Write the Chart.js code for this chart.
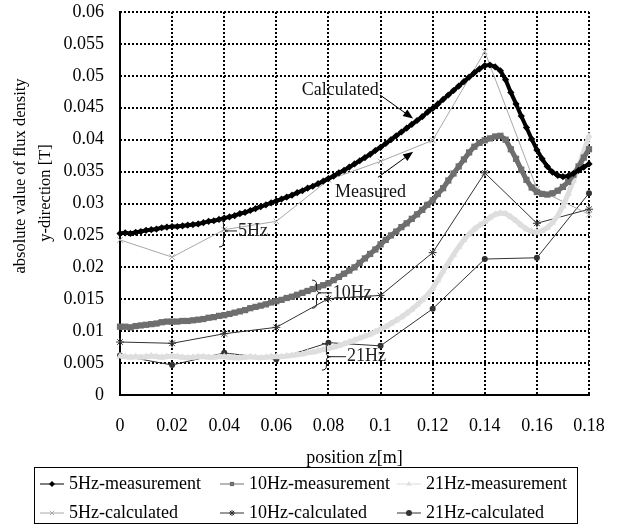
<!DOCTYPE html>
<html>
<head>
<meta charset="utf-8">
<script src="https://cdn.jsdelivr.net/npm/chart.js@4/dist/chart.umd.min.js"></script>
<style>
  html, body { margin: 0; padding: 0; background: #fff; }
  #wrap { width: 619px; height: 525px; }
</style>
</head>
<body>
<div id="wrap"><canvas id="fluxChart" width="619" height="525"></canvas></div>
<script>
// tick values / labels
const xTicks = [0, 0.02, 0.04, 0.06, 0.08, 0.1, 0.12, 0.14, 0.16, 0.18];
const xTickLabels = ["0", "0.02", "0.04", "0.06", "0.08", "0.1", "0.12", "0.14", "0.16", "0.18"];
const yTicks = [0, 0.005, 0.01, 0.015, 0.02, 0.025, 0.03, 0.035, 0.04, 0.045, 0.05, 0.055, 0.06];
const yTickLabels = ["0", "0.005", "0.01", "0.015", "0.02", "0.025", "0.03", "0.035", "0.04", "0.045", "0.05", "0.055", "0.06"];
const yTitleLines = ["absolute value of flux density", "y-direction [T]"];

// calculated values, one per x tick
const calcZ = [0, 0.02, 0.04, 0.06, 0.08, 0.1, 0.12, 0.14, 0.16, 0.18];
const calc5Hz = [0.0243, 0.0216, 0.0259, 0.0272, 0.0337, 0.0366, 0.0399, 0.0538, 0.0323, 0.0283];
const calc10Hz = [0.0083, 0.0081, 0.0096, 0.0106, 0.0151, 0.0156, 0.0223, 0.0348, 0.0269, 0.0291];
const calc21Hz = [0.0062, 0.0047, 0.0066, 0.0056, 0.0082, 0.0077, 0.0135, 0.0213, 0.0215, 0.0316];

// measured values, every 2 mm from 0 to 0.18 m
const measStep = 0.002;
const meas5Hz = [
  0.0253, 0.0254, 0.0253, 0.0255, 0.0256, 0.0258, 0.0259, 0.0260, 0.0262, 0.0263,
  0.0264, 0.0264, 0.0265, 0.0266, 0.0267, 0.0268, 0.0270, 0.0272, 0.0273, 0.0275,
  0.0277, 0.0279, 0.0281, 0.0284, 0.0286, 0.0289, 0.0292, 0.0295, 0.0298, 0.0301,
  0.0304, 0.0307, 0.0310, 0.0313, 0.0317, 0.0320, 0.0324, 0.0327, 0.0331, 0.0335,
  0.0339, 0.0343, 0.0348, 0.0352, 0.0357, 0.0362, 0.0367, 0.0372, 0.0377, 0.0383,
  0.0388, 0.0394, 0.0400, 0.0406, 0.0412, 0.0418, 0.0424, 0.0430, 0.0436, 0.0443,
  0.0449, 0.0456, 0.0463, 0.0470, 0.0477, 0.0484, 0.0491, 0.0498, 0.0505, 0.0511,
  0.0516, 0.0517, 0.0514, 0.0508, 0.0494, 0.0474, 0.0456, 0.0437, 0.0419, 0.0401,
  0.0384, 0.0370, 0.0358, 0.0349, 0.0344, 0.0342, 0.0343, 0.0347, 0.0352, 0.0357,
  0.0362
];
const meas10Hz = [
  0.0107, 0.0107, 0.0106, 0.0108, 0.0109, 0.0110, 0.0111, 0.0112, 0.0114, 0.0115,
  0.0115, 0.0115, 0.0116, 0.0116, 0.0117, 0.0118, 0.0119, 0.0121, 0.0122, 0.0124,
  0.0125, 0.0127, 0.0129, 0.0131, 0.0133, 0.0136, 0.0138, 0.0140, 0.0142, 0.0145,
  0.0147, 0.0149, 0.0152, 0.0154, 0.0157, 0.0160, 0.0163, 0.0166, 0.0169, 0.0172,
  0.0175, 0.0180, 0.0185, 0.0190, 0.0195, 0.0200, 0.0207, 0.0214, 0.0221, 0.0228,
  0.0236, 0.0243, 0.0250, 0.0256, 0.0263, 0.0269, 0.0276, 0.0283, 0.0290, 0.0298,
  0.0305, 0.0315, 0.0324, 0.0336, 0.0347, 0.0358, 0.0369, 0.0380, 0.0389, 0.0395,
  0.0399, 0.0402, 0.0405, 0.0406, 0.0400, 0.0385, 0.0370, 0.0353, 0.0337, 0.0325,
  0.0318, 0.0315, 0.0314, 0.0316, 0.0320, 0.0326, 0.0334, 0.0345, 0.0358, 0.0372,
  0.0385
];
const meas21Hz = [
  0.0061, 0.0060, 0.0059, 0.0060, 0.0059, 0.0060, 0.0061, 0.0060, 0.0059, 0.0060,
  0.0061, 0.0060, 0.0059, 0.0058, 0.0059, 0.0060, 0.0060, 0.0059, 0.0059, 0.0060,
  0.0060, 0.0059, 0.0058, 0.0058, 0.0059, 0.0060, 0.0059, 0.0058, 0.0059, 0.0060,
  0.0060, 0.0060, 0.0061, 0.0062, 0.0063, 0.0064, 0.0066, 0.0067, 0.0069, 0.0071,
  0.0073, 0.0075, 0.0077, 0.0080, 0.0083, 0.0086, 0.0089, 0.0092, 0.0095, 0.0099,
  0.0103, 0.0107, 0.0112, 0.0117, 0.0122, 0.0128, 0.0134, 0.0141, 0.0149, 0.0157,
  0.0167, 0.0180, 0.0194, 0.0207, 0.0220, 0.0232, 0.0243, 0.0252, 0.0260, 0.0266,
  0.0271, 0.0278, 0.0283, 0.0285, 0.0284, 0.0279, 0.0273, 0.0266, 0.0260, 0.0256,
  0.0255, 0.0257, 0.0262, 0.0270, 0.0281, 0.0296, 0.0315, 0.0336, 0.0358, 0.0382,
  0.0406
];

const FONT = "'Liberation Serif', 'Times New Roman', serif";

function toPoints(xs, ys) {
  return ys.map((y, i) => ({ x: xs[i], y: y }));
}
function measPoints(ys) {
  return ys.map((y, i) => ({ x: +(i * measStep).toFixed(3), y: y }));
}

const datasets = [
  { label: "5Hz-measurement", data: measPoints(meas5Hz), borderColor: "#000", backgroundColor: "#000",
    borderWidth: 4, pointStyle: "rectRot", pointRadius: 3.6, pointBorderWidth: 0 },
  { label: "10Hz-measurement", data: measPoints(meas10Hz), borderColor: "#6e6e6e", backgroundColor: "#6e6e6e",
    borderWidth: 5, pointStyle: "rect", pointRadius: 4.4, pointBorderWidth: 0 },
  { label: "21Hz-measurement", data: measPoints(meas21Hz), borderColor: "#dedede", backgroundColor: "#dedede",
    borderWidth: 5, pointStyle: "triangle", pointRadius: 4.2, pointBorderWidth: 0 },
  { label: "5Hz-calculated", data: toPoints(calcZ, calc5Hz), borderColor: "#a8a8a8", backgroundColor: "#a8a8a8",
    borderWidth: 1, pointStyle: "crossRot", pointRadius: 4, pointBorderWidth: 1 },
  { label: "10Hz-calculated", data: toPoints(calcZ, calc10Hz), borderColor: "#333", backgroundColor: "#333",
    borderWidth: 1, pointStyle: "star", pointRadius: 4, pointBorderWidth: 1 },
  { label: "21Hz-calculated", data: toPoints(calcZ, calc21Hz), borderColor: "#333", backgroundColor: "#333",
    borderWidth: 1, pointStyle: "circle", pointRadius: 3, pointBorderWidth: 0 }
];
datasets.forEach(d => { d.fill = false; d.tension = 0; d.clip = false; d.pointHoverRadius = d.pointRadius; });

// dotted grid and solid left/bottom axes
const gridPlugin = {
  id: "dotGrid",
  beforeDatasetsDraw(chart) {
    const ctx = chart.ctx;
    const { left, right, top, bottom } = chart.chartArea;
    const xs = chart.scales.x, ys = chart.scales.y;
    ctx.save();
    ctx.strokeStyle = "#000";
    ctx.lineWidth = 2;
    ctx.setLineDash([2, 2]);
    xs.ticks.forEach(t => {
      const x = Math.round(xs.getPixelForValue(t.value));
      ctx.beginPath(); ctx.moveTo(x, top); ctx.lineTo(x, bottom); ctx.stroke();
    });
    ys.ticks.forEach(t => {
      const y = Math.round(ys.getPixelForValue(t.value));
      ctx.beginPath(); ctx.moveTo(left, y); ctx.lineTo(right, y); ctx.stroke();
    });
    ctx.setLineDash([]);
    ctx.beginPath();
    ctx.moveTo(Math.round(left), top - 1);
    ctx.lineTo(Math.round(left), Math.round(bottom));
    ctx.lineTo(right + 1, Math.round(bottom));
    ctx.stroke();
    ctx.restore();
  }
};

// text notes, braces and arrows drawn on top of the plot, plus y title and boxed legend
const notesPlugin = {
  id: "notes",
  afterDatasetsDraw(chart) {
    const ctx = chart.ctx;
    const xs = chart.scales.x, ys = chart.scales.y;
    const px = z => xs.getPixelForValue(z);
    const py = b => ys.getPixelForValue(b);
    ctx.save();
    ctx.font = "18px " + FONT;
    ctx.fillStyle = "#111";
    ctx.textBaseline = "middle";
    ctx.textAlign = "left";
    ctx.fillText("Calculated", px(0.0698), py(0.0478));
    ctx.fillText("Measured", px(0.0825), py(0.0318));

    function arrow(z1, b1, z2, b2) {
      const x1 = px(z1), y1 = py(b1), x2 = px(z2), y2 = py(b2);
      const a = Math.atan2(y2 - y1, x2 - x1);
      ctx.strokeStyle = "#000";
      ctx.lineWidth = 1;
      ctx.beginPath();
      ctx.moveTo(x1, y1);
      ctx.lineTo(x2 - 6 * Math.cos(a), y2 - 6 * Math.sin(a));
      ctx.stroke();
      ctx.fillStyle = "#000";
      ctx.beginPath();
      ctx.moveTo(x2, y2);
      ctx.lineTo(x2 - 10 * Math.cos(a) + 4 * Math.sin(a), y2 - 10 * Math.sin(a) - 4 * Math.cos(a));
      ctx.lineTo(x2 - 10 * Math.cos(a) - 4 * Math.sin(a), y2 - 10 * Math.sin(a) + 4 * Math.cos(a));
      ctx.closePath();
      ctx.fill();
    }
    arrow(0.0998, 0.0470, 0.1125, 0.0433);
    arrow(0.0990, 0.0341, 0.1125, 0.0381);

    function brace(z, bTop, bBot, bTip, zText, label) {
      const x = px(z), w = 9;
      const yT = py(bTop), yB = py(bBot), yM = py(bTip);
      const xm = x + w / 2, xt = x + w, r = 4;
      ctx.strokeStyle = "#222";
      ctx.lineWidth = 1;
      ctx.beginPath();
      ctx.moveTo(x, yT);
      ctx.quadraticCurveTo(xm, yT, xm, yT + r);
      ctx.lineTo(xm, yM - r);
      ctx.quadraticCurveTo(xm, yM, xt, yM);
      ctx.quadraticCurveTo(xm, yM, xm, yM + r);
      ctx.lineTo(xm, yB - r);
      ctx.quadraticCurveTo(xm, yB, x, yB);
      ctx.moveTo(xt, yM);
      ctx.lineTo(px(zText) - 1, yM);
      ctx.stroke();
      ctx.fillStyle = "#222";
      ctx.fillText(label, px(zText), yM);
    }
    brace(0.0380, 0.0274, 0.0232, 0.0257, 0.0453, "5Hz");
    brace(0.0737, 0.0180, 0.0136, 0.0160, 0.0817, "10Hz");
    brace(0.0775, 0.0081, 0.0039, 0.0060, 0.0871, "21Hz");
    ctx.restore();
  },
  afterDraw(chart) {
    const ctx = chart.ctx;
    ctx.save();
    // rotated y title, two lines
    ctx.fillStyle = "#000";
    ctx.font = "16.5px " + FONT;
    ctx.textAlign = "center";
    ctx.textBaseline = "middle";
    [[21, 176], [46, 193]].forEach((p, i) => {
      ctx.save();
      ctx.translate(p[0], p[1]);
      ctx.rotate(-Math.PI / 2);
      ctx.fillText(yTitleLines[i], 0, 0);
      ctx.restore();
    });

    const cols = [40, 220, 397];
    const rows = [484, 513];
    ctx.strokeStyle = "#000";
    ctx.lineWidth = 1;
    ctx.strokeRect(34.5, 467.5, 543, 56);
    ctx.font = "18px " + FONT;
    ctx.textAlign = "left";
    chart.data.datasets.forEach((d, i) => {
      const x = cols[i % 3], y = rows[Math.floor(i / 3)];
      ctx.strokeStyle = d.borderColor;
      ctx.fillStyle = d.backgroundColor;
      ctx.lineWidth = 1;
      ctx.beginPath();
      ctx.moveTo(x, y);
      ctx.lineTo(x + 24, y);
      ctx.stroke();
      Chart.helpers.drawPoint(ctx, {
        pointStyle: d.pointStyle, radius: Math.min(d.pointRadius, 3), rotation: 0,
        borderWidth: d.pointBorderWidth
      }, x + 12, y);
      ctx.fillStyle = "#000";
      ctx.fillText(d.label, x + 29, y);
    });
    ctx.restore();
  }
};

new Chart(document.getElementById("fluxChart"), {
  type: "line",
  data: { datasets: datasets },
  options: {
    responsive: false,
    animation: false,
    devicePixelRatio: 1,
    layout: { padding: { left: 0, right: 30, top: 12, bottom: 56 } },
    plugins: { legend: { display: false }, tooltip: { enabled: false } },
    scales: {
      x: {
        type: "linear",
        min: 0,
        max: 0.18,
        afterBuildTicks: s => { s.ticks = xTicks.map(v => ({ value: v })); },
        afterFit: s => { s.height = 74; s.paddingLeft = 0; s.paddingRight = 0; },
        ticks: {
          autoSkip: false,
          maxRotation: 0,
          padding: 20,
          color: "#000",
          font: { family: FONT, size: 18 },
          callback: (v, i) => xTickLabels[i]
        },
        grid: { display: false, drawTicks: false },
        border: { display: false },
        title: {
          display: true,
          text: "position z[m]",
          color: "#000",
          font: { family: FONT, size: 18 },
          padding: { top: 0, bottom: 0 }
        }
      },
      y: {
        type: "linear",
        min: 0,
        max: 0.06,
        afterBuildTicks: s => { s.ticks = yTicks.map(v => ({ value: v })); },
        afterFit: s => { s.width = 120; s.paddingTop = 0; s.paddingBottom = 0; },
        ticks: {
          autoSkip: false,
          padding: 16,
          color: "#000",
          font: { family: FONT, size: 18 },
          callback: (v, i) => yTickLabels[i]
        },
        grid: { display: false, drawTicks: false },
        border: { display: false },
        title: { display: false }
      }
    }
  },
  plugins: [gridPlugin, notesPlugin]
});
</script>
</body>
</html>
